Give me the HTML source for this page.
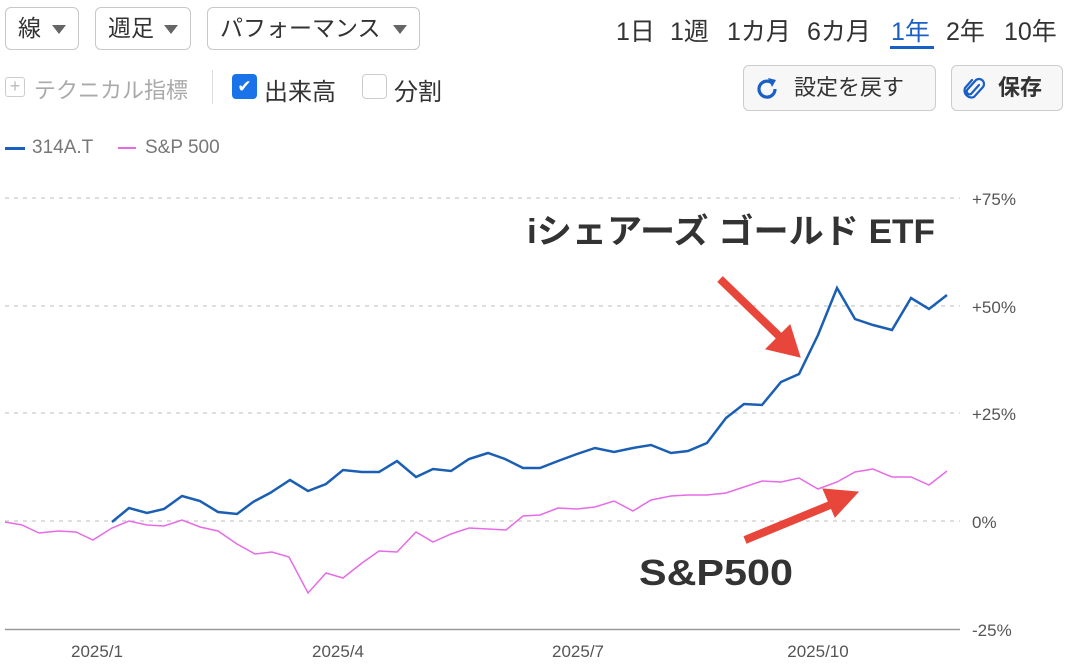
<!DOCTYPE html>
<html><head><meta charset="utf-8"><style>
body{margin:0;width:1084px;height:671px;background:#fff;font-family:"Liberation Sans","Noto Sans CJK JP",sans-serif;position:relative;overflow:hidden;color:#333}
.a{position:absolute;white-space:nowrap}
.btn{position:absolute;border:1.5px solid #c8c8c8;border-radius:6px;box-sizing:border-box;font-size:23px;line-height:40px;padding-left:12px}
.tri{position:absolute;top:17px;width:0;height:0;border-left:7px solid transparent;border-right:7px solid transparent;border-top:9px solid #666}
.p{position:absolute;top:12px;font-size:25px}
</style></head><body>
<div class="btn" style="left:5px;top:7px;width:74px;height:43px">線<span class="tri" style="right:12px"></span></div>
<div class="btn" style="left:95px;top:7px;width:96px;height:43px">週足<span class="tri" style="right:12px"></span></div>
<div class="btn" style="left:207px;top:7px;width:213px;height:43px">パフォーマンス<span class="tri" style="right:12px"></span></div>
<span class="p" style="left:616px">1日</span>
<span class="p" style="left:670px">1週</span>
<span class="p" style="left:727px">1カ月</span>
<span class="p" style="left:807px">6カ月</span>
<span class="p" style="left:891px;color:#1a5fc4">1年</span>
<span class="p" style="left:946px">2年</span>
<span class="p" style="left:1004px">10年</span>
<div class="a" style="left:890px;top:46px;width:44px;height:3px;background:#1a5fc4"></div>
<div class="a" style="left:5px;top:77px;width:20px;height:20px;border:1.5px solid #ccc;border-radius:3px;box-sizing:border-box;color:#bbb;font-size:18px;line-height:16px;text-align:center">+</div>
<div class="a" style="left:34px;top:73px;font-size:22px;color:#aaa">テクニカル指標</div>
<div class="a" style="left:212px;top:70px;width:1px;height:34px;background:#ddd"></div>
<div class="a" style="left:232px;top:74px;width:25px;height:25px;background:#1a73e8;border-radius:4px;color:#fff;font-size:17px;line-height:25px;text-align:center">✔</div>
<div class="a" style="left:264px;top:72px;font-size:24px">出来高</div>
<div class="a" style="left:362px;top:74px;width:25px;height:25px;border:1.5px solid #ccc;border-radius:4px;box-sizing:border-box"></div>
<div class="a" style="left:394px;top:72px;font-size:24px">分割</div>
<div class="a" style="left:743px;top:65px;width:193px;height:46px;border:1.5px solid #ccc;border-radius:6px;box-sizing:border-box;background:#f7f7f7;font-size:22px;line-height:44px;padding-left:50px">設定を戻す</div>
<svg class="a" style="left:754px;top:76px" width="26" height="26" viewBox="0 0 26 26"><path d="M21 13 A8 8 0 1 1 17.5 6.5" fill="none" stroke="#1a5fc4" stroke-width="3.2"/><polygon points="14,2 22,4 18,11" fill="#1a5fc4"/></svg>
<div class="a" style="left:951px;top:65px;width:112px;height:46px;border:1.5px solid #ccc;border-radius:6px;box-sizing:border-box;background:#f7f7f7;font-size:22px;line-height:44px;padding-left:46px;font-weight:bold">保存</div>
<svg class="a" style="left:962px;top:76px" width="24" height="26" viewBox="0 0 24 26"><path d="M17 9 L9 18 A3 3 0 0 1 5 14 L14 4 A5 5 0 0 1 21 11 L12 21 A7 7 0 0 1 3 12 L10 4" fill="none" stroke="#1a5fc4" stroke-width="2.2" stroke-linecap="round"/></svg>
<div class="a" style="left:5px;top:147px;width:20px;height:3px;background:#1a5fc4"></div>
<div class="a" style="left:32px;top:137px;font-size:19px;color:#777">314A.T</div>
<div class="a" style="left:118px;top:147px;width:18px;height:2px;background:#e66be6"></div>
<div class="a" style="left:145px;top:137px;font-size:19px;color:#777">S&amp;P 500</div>
<svg class="a" style="left:0;top:0" width="1084" height="671">
<g stroke="#d4d4d4" stroke-width="1.5" stroke-dasharray="4,5">
<line x1="5" y1="198" x2="960" y2="198"/><line x1="5" y1="306" x2="960" y2="306"/><line x1="5" y1="413" x2="960" y2="413"/><line x1="5" y1="521" x2="960" y2="521"/>
</g>
<line x1="5" y1="629.5" x2="960" y2="629.5" stroke="#999" stroke-width="1.5"/>
<g font-size="17" fill="#555" font-family="Liberation Sans,sans-serif">
<text x="972" y="205">+75%</text><text x="972" y="313">+50%</text><text x="972" y="420">+25%</text><text x="972" y="528">0%</text><text x="972" y="636">-25%</text>
<text x="97" y="657" text-anchor="middle">2025/1</text><text x="338" y="657" text-anchor="middle">2025/4</text><text x="578" y="657" text-anchor="middle">2025/7</text><text x="818" y="657" text-anchor="middle">2025/10</text>
</g>
<polyline fill="none" stroke="#e66be6" stroke-width="1.5" points="5,522 22,525 39,533 58,531 76,532 93,540 112,528 129,521 147,525 164,526 182,520 200,527 218,531 237,544 255,554 272,552 289,557 308,593 326,573 343,578 362,563 379,551 397,552 416,532 433,542 451,534 469,528 488,529 506,530 523,516 540,515 558,508 577,509 595,507 614,501 633,511 651,500 671,496 688,495 707,495 726,493 744,487 762,481 781,482 799,478 818,489 837,482 855,472 873,469 892,477 911,477 929,485 947,471"/>
<polyline fill="none" stroke="#1a5fb4" stroke-width="2.5" points="112,522 129,508 147,513 164,509 182,496 200,501 218,512 237,514 253,502 270,493 290,480 308,491 326,484 343,470 362,472 379,472 397,461 416,477 433,469 451,471 469,459 488,453 505,459 523,468 540,468 558,461 577,454 595,448 614,452 633,448 651,445 671,453 688,451 707,443 726,418 744,404 762,405 781,382 799,374 818,335 837,288 855,319 873,325 892,330 911,298 929,309 947,295"/>
<g fill="#e8463a" stroke="#e8463a">
<line x1="720" y1="279" x2="780" y2="337" stroke-width="8"/>
<polygon points="800,357 766,349 790,325"/>
<line x1="745" y1="540" x2="835" y2="503" stroke-width="8"/>
<polygon points="858,492 835,517 823,489"/>
</g>
<text x="527" y="243" font-size="34" font-weight="bold" fill="#333" font-family="Liberation Sans,Noto Sans CJK JP,sans-serif" textLength="408" lengthAdjust="spacingAndGlyphs">iシェアーズ ゴールド ETF</text>
<text x="639" y="585" font-size="36" font-weight="bold" fill="#333" font-family="Liberation Sans,sans-serif" textLength="154" lengthAdjust="spacingAndGlyphs">S&amp;P500</text>
</svg>
</body></html>
